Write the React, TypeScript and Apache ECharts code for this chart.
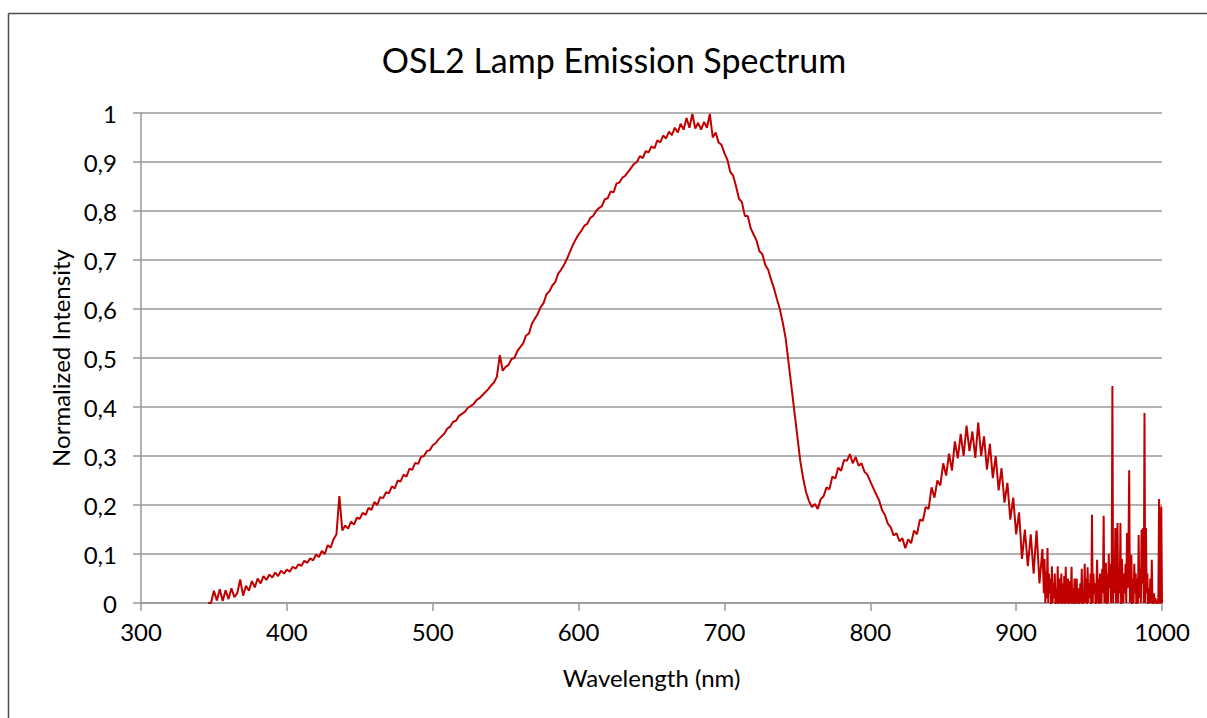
import React, { useEffect, useRef } from "react";
import * as echarts from "echarts";

// Chart text
const titleText = "OSL2 Lamp Emission Spectrum";
const xAxisName = "Wavelength (nm)";
const yAxisName = "Normalized Intensity";

// Axis ranges / ticks
const xMin = 300;
const xMax = 1000;
const xStep = 100;
const yMin = 0;
const yMax = 1;
const yStep = 0.1;

// Segment A: 346 nm .. 918 nm, every 2 nm
const segAStart = 346;
const segAStep = 2;
const segAValues = [
  0.0, 0.0, 0.025, 0.005, 0.028, 0.004, 0.026, 0.008, 0.03, 0.012, // 346-364
  0.02, 0.048, 0.015, 0.035, 0.025, 0.045, 0.032, 0.05, 0.04, 0.055, // 366-384
  0.047, 0.058, 0.052, 0.062, 0.055, 0.066, 0.06, 0.068, 0.064, 0.074, // 386-404
  0.07, 0.079, 0.076, 0.086, 0.082, 0.091, 0.087, 0.099, 0.094, 0.106, // 406-424
  0.1, 0.118, 0.113, 0.13, 0.14, 0.218, 0.148, 0.158, 0.152, 0.166, // 426-444
  0.16, 0.174, 0.172, 0.184, 0.18, 0.194, 0.19, 0.206, 0.2, 0.216, // 446-464
  0.214, 0.226, 0.224, 0.238, 0.234, 0.25, 0.248, 0.262, 0.258, 0.274, // 466-484
  0.272, 0.286, 0.284, 0.298, 0.3, 0.31, 0.312, 0.322, 0.326, 0.334, // 486-504
  0.34, 0.346, 0.356, 0.36, 0.37, 0.372, 0.382, 0.386, 0.39, 0.398, // 506-524
  0.402, 0.406, 0.414, 0.418, 0.424, 0.43, 0.436, 0.444, 0.45, 0.462, // 526-544
  0.506, 0.474, 0.482, 0.486, 0.498, 0.5, 0.514, 0.522, 0.53, 0.546, // 546-564
  0.55, 0.57, 0.58, 0.59, 0.604, 0.612, 0.63, 0.636, 0.648, 0.655, // 566-584
  0.672, 0.68, 0.69, 0.702, 0.716, 0.73, 0.742, 0.752, 0.76, 0.77, // 586-604
  0.774, 0.786, 0.79, 0.8, 0.806, 0.81, 0.824, 0.826, 0.84, 0.838, // 606-624
  0.856, 0.858, 0.868, 0.872, 0.88, 0.888, 0.896, 0.9, 0.912, 0.908, // 626-644
  0.922, 0.92, 0.932, 0.928, 0.944, 0.94, 0.954, 0.948, 0.962, 0.955, // 646-664
  0.97, 0.96, 0.978, 0.966, 0.99, 0.97, 0.998, 0.968, 0.98, 0.966, // 666-684
  0.982, 0.97, 0.998, 0.95, 0.96, 0.94, 0.935, 0.918, 0.905, 0.88, // 686-704
  0.872, 0.85, 0.825, 0.818, 0.79, 0.79, 0.765, 0.752, 0.74, 0.718, // 706-724
  0.712, 0.69, 0.68, 0.66, 0.642, 0.62, 0.6, 0.572, 0.54, 0.49, // 726-744
  0.44, 0.39, 0.34, 0.29, 0.254, 0.226, 0.208, 0.196, 0.202, 0.192, // 746-764
  0.212, 0.218, 0.236, 0.232, 0.258, 0.254, 0.276, 0.27, 0.292, 0.29, // 766-784
  0.304, 0.285, 0.298, 0.28, 0.285, 0.268, 0.262, 0.248, 0.235, 0.222, // 786-804
  0.21, 0.19, 0.18, 0.162, 0.155, 0.138, 0.142, 0.126, 0.132, 0.112, // 806-824
  0.13, 0.122, 0.148, 0.14, 0.17, 0.168, 0.196, 0.192, 0.236, 0.215, // 826-844
  0.25, 0.24, 0.285, 0.26, 0.305, 0.27, 0.33, 0.295, 0.345, 0.3, // 846-864
  0.362, 0.31, 0.35, 0.296, 0.368, 0.3, 0.34, 0.272, 0.325, 0.255, // 866-884
  0.3, 0.23, 0.275, 0.205, 0.245, 0.17, 0.215, 0.14, 0.185, 0.09, // 886-904
  0.15, 0.075, 0.14, 0.06, 0.148, 0.04, 0.11, // 906-918
];

// Segment B: 919 nm .. 1000 nm, every 0.5 nm (noisy tail)
const segBStart = 919;
const segBStep = 0.5;
const segBValues = [
  0.02, 0.09, 0.0, 0.065, 0.01, 0.112, 0.0, 0.06, 0.02, 0.05, // 919-923.5
  -0.01, 0.075, 0.0, 0.04, 0.01, 0.06, -0.01, 0.03, 0.0, 0.075, // 924-928.5
  -0.02, 0.05, 0.0, 0.03, 0.06, -0.02, 0.04, 0.0, 0.055, -0.01, // 929-933.5
  0.074, 0.0, 0.03, 0.05, -0.02, 0.045, 0.0, 0.02, 0.074, -0.02, // 934-938.5
  0.03, 0.0, 0.05, -0.01, 0.02, 0.05, 0.0, 0.03, -0.02, 0.01, // 939-943.5
  0.04, 0.0, 0.07, -0.01, 0.02, 0.0, 0.08, 0.0, 0.05, -0.02, // 944-948.5
  0.073, 0.0, 0.04, 0.01, 0.06, -0.01, 0.18, 0.0, 0.06, 0.02, // 949-953.5
  0.04, -0.01, 0.03, 0.088, 0.0, 0.05, -0.02, 0.06, 0.03, 0.0, // 954-958.5
  0.07, 0.02, 0.178, 0.0, 0.04, 0.082, -0.02, 0.06, 0.0, 0.1, // 959-963.5
  0.03, 0.08, 0.0, 0.05, 0.443, 0.0, 0.1, 0.02, 0.153, 0.0, // 964-968.5
  0.09, 0.163, 0.0, 0.07, 0.02, 0.163, -0.02, 0.09, 0.04, 0.0, // 969-973.5
  0.06, 0.02, 0.08, 0.0, 0.143, 0.03, 0.11, 0.271, 0.0, 0.06, // 974-978.5
  0.098, -0.01, 0.05, 0.0, 0.08, 0.02, 0.06, -0.02, 0.05, 0.0, // 979-983.5
  0.139, 0.01, 0.07, 0.0, 0.15, 0.04, 0.153, 0.0, 0.388, 0.0, // 984-988.5
  0.153, 0.02, 0.06, -0.02, 0.03, 0.0, 0.05, 0.0, 0.088, -0.01, // 989-993.5
  0.0, 0.02, 0.0, 0.01, 0.0, 0.0, 0.0, 0.01, 0.212, 0.0, // 994-998.5
  0.0, 0.197, 0.0, // 999-1000
];

const FONT = "Lato, 'Open Sans', sans-serif";

export default function App() {
  const ref = useRef<HTMLDivElement>(null);

  useEffect(() => {
    if (!ref.current) return;
    const chart = echarts.init(ref.current, null, { renderer: "svg" });

    const points: [number, number][] = [];
    segAValues.forEach((v, i) => points.push([segAStart + i * segAStep, v]));
    segBValues.forEach((v, i) => points.push([segBStart + i * segBStep, v]));

    const gray = "#989898";
    const frame = "#4d4d4d";

    chart.setOption({
      animation: false,
      backgroundColor: "#ffffff",
      title: {
        text: titleText,
        left: 609,
        top: 37,
        textAlign: "center",
        textStyle: {
          fontFamily: FONT,
          fontSize: 34,
          fontWeight: "normal",
          color: "#000000",
        },
      },
      graphic: [
        {
          type: "line",
          shape: { x1: 8.5, y1: 13.5, x2: 1207, y2: 13.5 },
          style: { stroke: frame, lineWidth: 1.5 },
          silent: true,
          z: 100,
        },
        {
          type: "line",
          shape: { x1: 8.5, y1: 13.5, x2: 8.5, y2: 718 },
          style: { stroke: frame, lineWidth: 1.5 },
          silent: true,
          z: 100,
        },
      ],
      grid: {
        left: 141,
        right: 45,
        top: 113,
        bottom: 115,
      },
      xAxis: {
        type: "value",
        min: xMin,
        max: xMax,
        interval: xStep,
        name: xAxisName,
        nameLocation: "middle",
        nameGap: 62,
        nameTextStyle: { fontFamily: FONT, fontSize: 24, color: "#000000" },
        axisLine: { show: true, lineStyle: { color: gray, width: 1.5 } },
        axisTick: { show: true, length: 8, lineStyle: { color: gray, width: 1.5 } },
        axisLabel: {
          fontFamily: FONT,
          fontSize: 24,
          color: "#000000",
          margin: 16,
          formatter: (v: number) => String(v),
        },
        splitLine: { show: false },
      },
      yAxis: {
        type: "value",
        min: yMin,
        max: yMax,
        interval: yStep,
        name: yAxisName,
        nameLocation: "middle",
        nameGap: 66,
        nameRotate: 90,
        nameTextStyle: { fontFamily: FONT, fontSize: 24, color: "#000000" },
        axisLine: { show: true, lineStyle: { color: gray, width: 1.5 } },
        axisTick: { show: true, length: 8, lineStyle: { color: gray, width: 1.5 } },
        axisLabel: {
          fontFamily: FONT,
          fontSize: 24,
          color: "#000000",
          margin: 24,
          formatter: (v: number) => String(Math.round(v * 10) / 10).replace(".", ","),
        },
        splitLine: { show: true, lineStyle: { color: gray, width: 1.5 } },
      },
      series: [
        {
          type: "line",
          data: points,
          showSymbol: false,
          symbol: "none",
          clip: true,
          lineStyle: { color: "#C00000", width: 2 },
          itemStyle: { color: "#C00000" },
        },
      ],
    });

    return () => chart.dispose();
  }, []);

  return (
    <div
      ref={ref}
      style={{ position: "fixed", left: 0, top: 0, width: 1207, height: 718, background: "#fff" }}
    />
  );
}
